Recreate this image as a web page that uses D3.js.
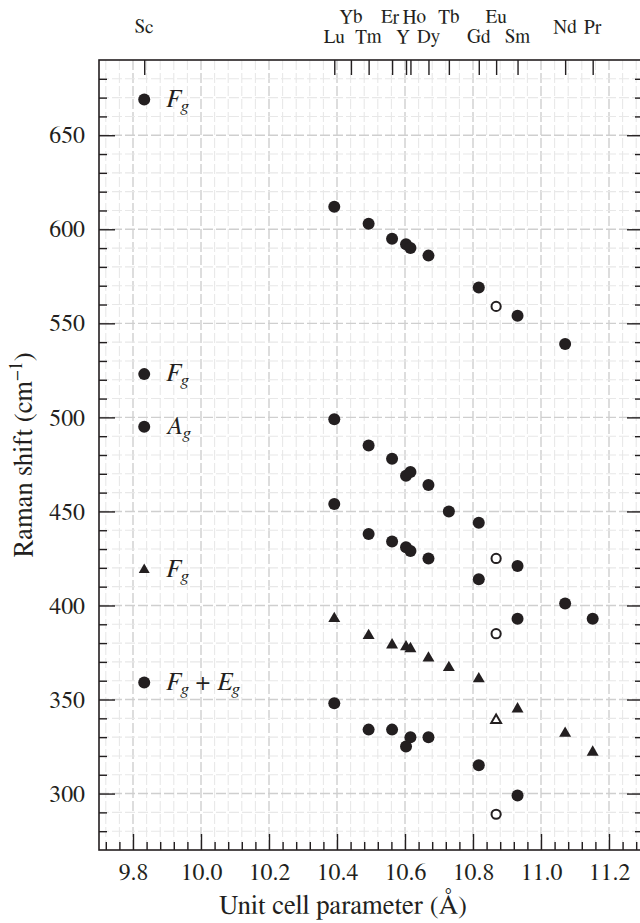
<!DOCTYPE html>
<html><head><meta charset="utf-8">
<script src="https://cdn.jsdelivr.net/npm/d3@7"></script>
<style>
html,body{margin:0;padding:0;background:#fff;}
svg{display:block;}
</style></head>
<body>
<svg id="chart" width="640" height="923"></svg>
<script>
// ---- data ----
const elements = ["Sc","Lu","Yb","Tm","Er","Y","Ho","Dy","Tb","Gd","Eu","Sm","Nd","Pr"];
const latticeA = [9.833,10.392,10.441,10.493,10.562,10.603,10.616,10.669,10.729,10.817,10.868,10.931,11.071,11.152];
const openMarker = ["Eu"];
// series values per element (null = not measured)
const fgHigh = [null,612,null,603,595,592,590,586,null,569,559,554,539,null];
const fgMid  = [null,499,null,485,478,469,471,464,450,444,425,421,401,393];
const agMode = [null,454,null,438,434,431,429,425,null,414,385,393,null,null];
const fgTri  = [null,393,null,384,379,378,377,372,367,361,339,345,332,322];
const fgEg   = [null,348,null,334,334,325,330,330,null,315,289,299,null,null];
const xTicks = [9.8,10.0,10.2,10.4,10.6,10.8,11.0,11.2];
const yTicks = [300,350,400,450,500,550,600,650];
const legendItems = [
  {sym:"circle", main:"F", sub:"g", at:669},
  {sym:"circle", main:"F", sub:"g", at:523},
  {sym:"circle", main:"A", sub:"g", at:495},
  {sym:"triangle", main:"F", sub:"g", at:419},
  {sym:"circle", main:"F", sub:"g", main2:"E", sub2:"g", at:359}
];

const svg = d3.select("#chart");

// choose the installed serif font closest to Times metrics
const PROBE_TXT = "Unit cell parameter (Å)";
const TIMES_W = 935.8; // width of PROBE_TXT in Times at 100px
function pickFont(){
  const probe = svg.append("text").attr("font-size",100).text(PROBE_TXT);
  probe.attr("font-family","zzqqnotafont");
  const base = probe.node().getComputedTextLength();
  const cands = ["Liberation Serif","Times New Roman","Times","Tinos","Nimbus Roman","Nimbus Roman No9 L","FreeSerif","Noto Serif","DejaVu Serif","serif"];
  let best = null, bestErr = 1e9, bestW = base;
  for(const c of cands){
    probe.attr("font-family",`"${c}"`);
    const w = probe.node().getComputedTextLength();
    if(Math.abs(w-base)>0.5 || c==="serif"){
      const err = Math.abs(w-TIMES_W);
      if(err<bestErr){ bestErr=err; best=c; bestW=w; }
    }
  }
  probe.remove();
  return {name:best||"serif", k: Math.min(1.05, Math.max(0.8, TIMES_W/bestW))};
}
const picked = pickFont();
const FONT = picked.name==="serif" ? "serif" : `"${picked.name}", serif`;
const K = picked.k;
const fs = v => (v*K).toFixed(2);
svg.attr("font-family",FONT);

// ---- layout ----
const L=99, R=643, T=60, B=850;
const ink="#231f20";
const x = d3.scaleLinear().domain([9.7,11.3]).range([L,R]);
const y = d3.scaleLinear().domain([270,690]).range([B,T]);

// grid
const xMinor = d3.range(243,283).map(i=>+(i*0.04).toFixed(2)).filter(v=>v>9.7&&v<11.3);
const yMinor = d3.range(28,69).map(i=>i*10);
const isMajX = v=>Math.abs(v*5-Math.round(v*5))<1e-6;
const g = svg.append("g");
g.selectAll("line.vx").data(xMinor).join("line")
  .attr("x1",d=>x(d)).attr("x2",d=>x(d)).attr("y1",T).attr("y2",B)
  .attr("stroke",d=>isMajX(d)?"#cfcfcf":"#e8e8e8")
  .attr("stroke-width",d=>isMajX(d)?1.4:1.1)
  .attr("stroke-dasharray","10,3");
g.selectAll("line.hy").data(yMinor).join("line")
  .attr("y1",d=>y(d)).attr("y2",d=>y(d)).attr("x1",L).attr("x2",R)
  .attr("stroke",d=>d%50===0?"#cfcfcf":"#e8e8e8")
  .attr("stroke-width",d=>d%50===0?1.4:1.1)
  .attr("stroke-dasharray","10,3");

// axes
function styleAxis(sel){
  sel.attr("font-family",FONT);
  sel.select(".domain").remove();
  sel.selectAll("line").attr("stroke",ink).attr("stroke-width",1.4);
  sel.selectAll("text").attr("fill",ink).attr("font-size",fs(23.5)).attr("font-family",FONT);
}
const xMinorTicks = xMinor.filter(v=>!isMajX(v));
const yMinorTicks = yMinor.filter(v=>v%50!==0);
// bottom
svg.append("g").attr("transform",`translate(0,${B})`)
  .call(d3.axisBottom(x).tickValues(xMinorTicks).tickSize(-8).tickFormat("")).call(styleAxis);
svg.append("g").attr("transform",`translate(0,${B})`)
  .call(d3.axisBottom(x).tickValues(xTicks).tickSize(-16).tickPadding(13).tickFormat(d3.format(".1f"))).call(styleAxis);
// left
svg.append("g").attr("transform",`translate(${L},0)`)
  .call(d3.axisLeft(y).tickValues(yMinorTicks).tickSize(-8).tickFormat("")).call(styleAxis);
svg.append("g").attr("transform",`translate(${L},0)`)
  .call(d3.axisLeft(y).tickValues(yTicks).tickSize(-16).tickPadding(14).tickFormat(d3.format("d"))).call(styleAxis);
// right
svg.append("g").attr("transform",`translate(${R},0)`)
  .call(d3.axisRight(y).tickValues(yMinorTicks).tickSize(-8).tickFormat("")).call(styleAxis);
svg.append("g").attr("transform",`translate(${R},0)`)
  .call(d3.axisRight(y).tickValues(yTicks).tickSize(-16).tickFormat("")).call(styleAxis);
// top (element ticks)
svg.append("g").attr("transform",`translate(0,${T})`)
  .call(d3.axisTop(x).tickValues(latticeA).tickSize(-15).tickFormat("")).call(styleAxis);

// frame
svg.append("rect").attr("x",L).attr("y",T).attr("width",R-L).attr("height",B-T)
  .attr("fill","none").attr("stroke",ink).attr("stroke-width",1.6);

// element labels
const rowOf = {Sc:1,Lu:2,Yb:0,Tm:2,Er:0,Y:2,Ho:0,Dy:2,Tb:0,Gd:2,Eu:0,Sm:2,Nd:1,Pr:1};
const dxOf = {Y:-3,Ho:4,Er:-2};
const rowBase = [23,33,43];
svg.append("g").selectAll("text").data(elements).join("text")
  .attr("x",(d,i)=>x(latticeA[i])+(dxOf[d]||0))
  .attr("y",d=>rowBase[rowOf[d]])
  .attr("text-anchor","middle").attr("font-size",fs(19)).attr("fill",ink)
  .text(d=>d);

// data points
const series = [
  {vals:fgHigh, sym:"circle"},
  {vals:fgMid, sym:"circle"},
  {vals:agMode, sym:"circle"},
  {vals:fgTri, sym:"triangle"},
  {vals:fgEg, sym:"circle"}
];
const pts=[];
series.forEach(s=>s.vals.forEach((v,i)=>{ if(v!=null) pts.push({e:elements[i],a:latticeA[i],v,sym:s.sym}); }));
const circ = d3.symbol().type(d3.symbolCircle).size(Math.PI*6*6);
const tri = d3.symbol().type(d3.symbolTriangle).size(62);
const triOpen = d3.symbol().type(d3.symbolTriangle).size(42);
const circOpen = d3.symbol().type(d3.symbolCircle).size(Math.PI*4.6*4.6);
svg.append("g").selectAll("path").data(pts).join("path")
  .attr("transform",d=>`translate(${x(d.a)},${y(d.v)})`)
  .attr("d",d=>{const open=openMarker.includes(d.e); return d.sym==="circle"?(open?circOpen():circ()):(open?triOpen():tri());})
  .attr("fill",d=>openMarker.includes(d.e)?"#fff":ink)
  .attr("stroke",ink)
  .attr("stroke-width",d=>openMarker.includes(d.e)?2:0);

// legend
const lx = x(latticeA[0]);
const lg = svg.append("g");
legendItems.forEach(it=>{
  const yy = y(it.at);
  lg.append("path").attr("transform",`translate(${lx},${yy})`)
    .attr("d", it.sym==="circle"?circ():d3.symbol().type(d3.symbolTriangle).size(52)())
    .attr("fill",ink);
  const t = lg.append("text").attr("x",lx+22).attr("y",yy+7).attr("font-size",fs(25)).attr("fill",ink);
  t.append("tspan").attr("font-style","italic").text(it.main);
  t.append("tspan").attr("font-style","italic").attr("font-size",fs(18)).attr("dy",5).text(it.sub);
  if(it.main2){
    t.append("tspan").attr("dy",-5).attr("dx",7).text("+");
    t.append("tspan").attr("font-style","italic").attr("dx",7).text(it.main2);
    t.append("tspan").attr("font-style","italic").attr("font-size",fs(18)).attr("dy",5).text(it.sub2);
  }
});

// axis titles
svg.append("text").attr("x",(L+R)/2-28).attr("y",914).attr("text-anchor","middle")
  .attr("font-size",fs(26.5)).attr("fill",ink).text("Unit cell parameter (Å)");
const yt = svg.append("text").attr("transform",`translate(32,${(T+B)/2}) rotate(-90)`)
  .attr("text-anchor","middle").attr("font-size",fs(26.5)).attr("fill",ink);
yt.append("tspan").text("Raman shift (cm");
yt.append("tspan").attr("font-size",fs(18)).attr("dy",-10).text("−1");
yt.append("tspan").attr("dy",10).text(")");
</script>
</body></html>
